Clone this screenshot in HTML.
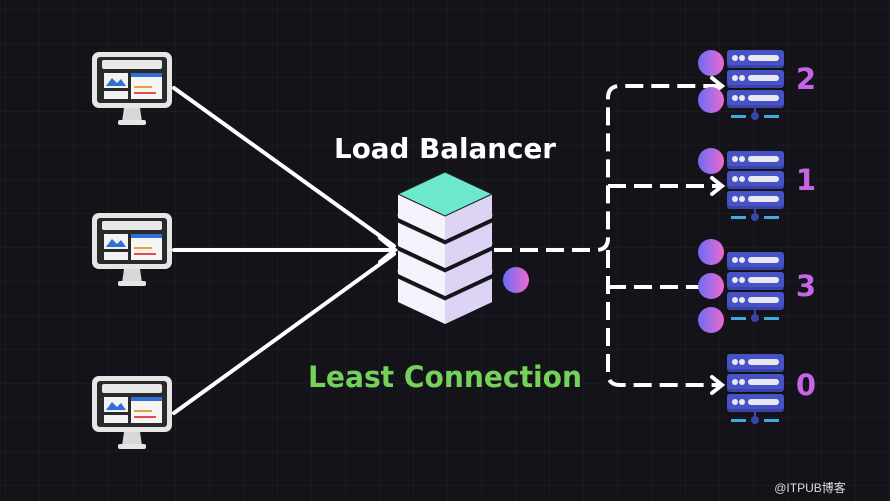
<!DOCTYPE html>
<html><head><meta charset="utf-8"><style>
html,body{margin:0;padding:0;background:#141319;}
svg{display:block}
</style></head><body>
<svg width="890" height="501" viewBox="0 0 890 501" xmlns="http://www.w3.org/2000/svg">
<defs>
<pattern id="g" width="34" height="34" patternUnits="userSpaceOnUse" x="6" y="10">
<path d="M34 0V34H0" fill="none" stroke="#22212a" stroke-width="1"/>
</pattern>
<linearGradient id="c" x1="0" x2="1" y1="0" y2="0"><stop offset="0" stop-color="#6a6cf5"/><stop offset="1" stop-color="#ee6ad0"/></linearGradient>
<g id="mon">
<rect x="0" y="0" width="80" height="56" rx="7" fill="#e6e6e6"/>
<rect x="5" y="5" width="70" height="46" rx="3" fill="#2a2a2a"/>
<rect x="10" y="8" width="60" height="9" rx="2" fill="#e8e8e8"/>
<rect x="12" y="21" width="24" height="15" fill="#f2f2f2"/>
<path d="M14 34 L20 26 L25 31 L29 27 L34 34Z" fill="#2f6fd8"/>
<rect x="12" y="39" width="24" height="8" fill="#f2f2f2"/>
<rect x="39" y="21" width="31" height="26" fill="#f5f5f5"/>
<rect x="39" y="21" width="31" height="4" fill="#2f6fd8"/>
<rect x="42" y="34" width="18" height="2" fill="#e6a13a"/>
<rect x="42" y="40" width="22" height="2" fill="#e64a4a"/>
<path d="M32 56 L30 70 L50 70 L48 56Z" fill="#d8d8d8"/>
<rect x="26" y="68" width="28" height="5" rx="2" fill="#e6e6e6"/>
</g>
<g id="row">
<rect x="0" y="0" width="57" height="18" rx="3" fill="#3b44a8"/>
<rect x="0" y="0" width="57" height="15" rx="3" fill="#4753c4"/>
<circle cx="8" cy="8" r="3" fill="#e8e8f5"/><circle cx="15" cy="8" r="3" fill="#e8e8f5"/>
<rect x="21" y="5" width="31" height="6" rx="3" fill="#e8e8f5"/>
</g>
<g id="srv">
<use href="#row" y="0"/><use href="#row" y="20"/><use href="#row" y="40"/>
<rect x="4" y="65" width="15" height="3" fill="#3fa9e0"/>
<rect x="37" y="65" width="15" height="3" fill="#3fa9e0"/>
<line x1="28" y1="58" x2="28" y2="64" stroke="#3b44a8" stroke-width="2"/>
<circle cx="28" cy="66" r="4" fill="#3b44a8"/>
</g>
<g id="layer">
<path d="M0 20 L47 42 L94 20 L94 44 L47 66 L0 44Z" fill="#f4f2fa"/>
<path d="M47 42 L94 20 L94 44 L47 66Z" fill="#ddd3f5"/>
<path d="M0 20 L47 42 L94 20" fill="none" stroke="#222" stroke-width="1"/>
</g>
</defs>
<rect width="890" height="501" fill="url(#g)"/>

<use href="#mon" x="92" y="52"/>
<use href="#mon" x="92" y="213"/>
<use href="#mon" x="92" y="376"/>

<g stroke="#fff" stroke-width="4" fill="none" stroke-linecap="round">
<line x1="174" y1="88" x2="394" y2="246"/>
<line x1="174" y1="250" x2="394" y2="250"/>
<line x1="174" y1="413" x2="394" y2="254"/>
<path d="M380 238 L395 250 L380 262"/>
</g>

<g>
<use href="#layer" x="398" y="258"/>
<path d="M398 270 L445 292 L492 270" fill="none" stroke="#e9e2b8" stroke-width="3"/>
<path d="M400 266 L445 287 L490 266" fill="none" stroke="#a9b4ea" stroke-width="3"/>
<use href="#layer" x="398" y="230"/>
<path d="M398 242 L445 264 L492 242" fill="none" stroke="#e9e2b8" stroke-width="3"/>
<path d="M400 238 L445 259 L490 238" fill="none" stroke="#a9b4ea" stroke-width="3"/>
<use href="#layer" x="398" y="202"/>
<path d="M398 214 L445 236 L492 214" fill="none" stroke="#e9e2b8" stroke-width="3"/>
<path d="M400 210 L445 231 L490 210" fill="none" stroke="#a9b4ea" stroke-width="3"/>
<use href="#layer" x="398" y="174"/>
<path d="M398 194 L445 172 L492 194 L445 216Z" fill="#6ee8cc" stroke="#222" stroke-width="1"/>
</g>

<g stroke="#fff" stroke-width="4" fill="none" stroke-dasharray="18 8">
<path d="M494 250 H596 Q608 250 608 238 V98 Q608 86 620 86 H722"/>
<path d="M608 250 V373 Q608 385 620 385 H722"/>
<path d="M608 186 H722"/>
<path d="M608 287 H722"/>
</g>
<g stroke="#fff" stroke-width="4" fill="none" stroke-linecap="round">
<path d="M712 78 L722 86 L712 94"/>
<path d="M712 178 L722 186 L712 194"/>
<path d="M712 377 L722 385 L712 393"/>
</g>

<use href="#srv" x="727" y="50"/>
<use href="#srv" x="727" y="151"/>
<use href="#srv" x="727" y="252"/>
<use href="#srv" x="727" y="354"/>

<g fill="url(#c)">
<circle cx="516" cy="280" r="13"/>
<circle cx="711" cy="63" r="13"/>
<circle cx="711" cy="100" r="13"/>
<circle cx="711" cy="161" r="13"/>
<circle cx="711" cy="252" r="13"/>
<circle cx="711" cy="286" r="13"/>
<circle cx="711" cy="320" r="13"/>
</g>

<g font-family="DejaVu Sans, Liberation Sans, sans-serif" font-weight="bold">
<text x="445" y="158" text-anchor="middle" font-size="28" fill="#fff" textLength="222" lengthAdjust="spacingAndGlyphs">Load Balancer</text>
<text x="445" y="387" text-anchor="middle" font-size="29" fill="#74d25a" textLength="274" lengthAdjust="spacingAndGlyphs">Least Connection</text>
<g font-size="29" fill="#c665e6" text-anchor="middle">
<text x="806" y="89">2</text>
<text x="806" y="190">1</text>
<text x="806" y="296">3</text>
<text x="806" y="395">0</text>
</g>
<text x="810" y="492" text-anchor="middle" font-size="12" font-weight="normal" fill="#ddd" font-family="Liberation Sans, 'Noto Sans CJK SC', sans-serif">@ITPUB博客</text>
</g>
</svg>
</body></html>
